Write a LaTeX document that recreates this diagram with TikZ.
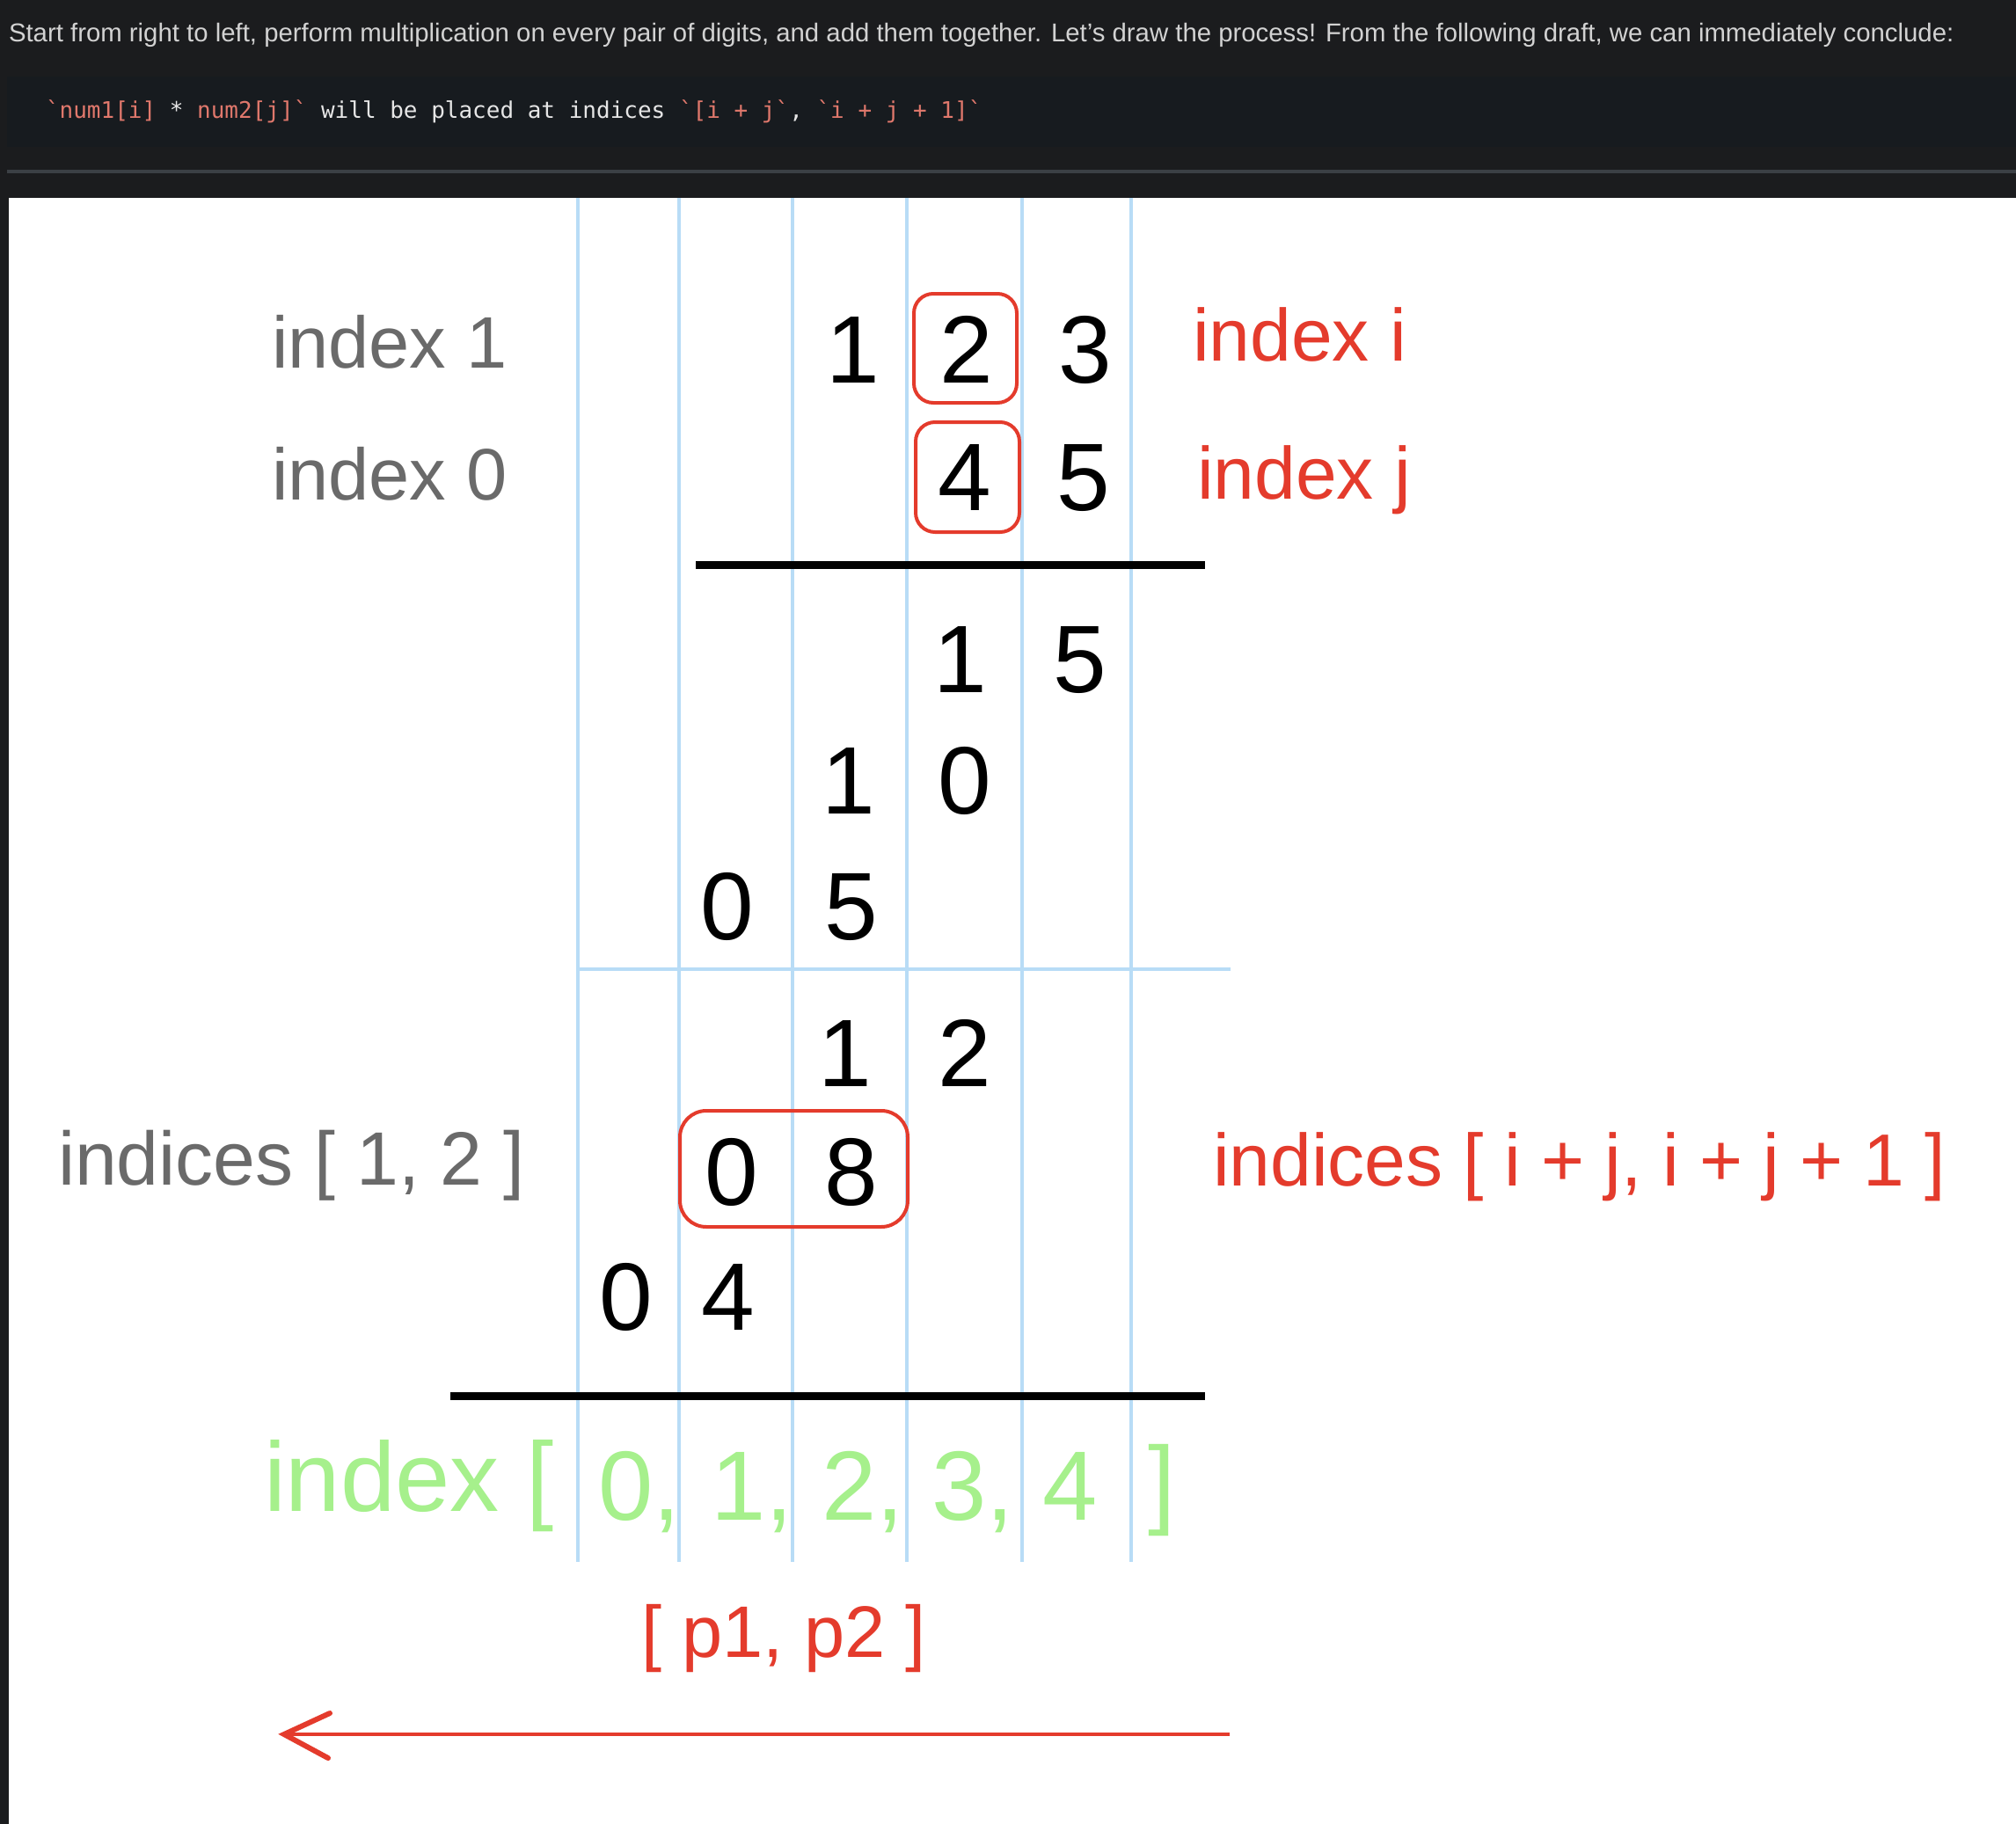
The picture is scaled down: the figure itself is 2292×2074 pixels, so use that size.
\documentclass[tikz,border=0pt]{standalone}
\usepackage{fontspec}
\setmainfont{Liberation Sans}
\setmonofont{DejaVu Sans Mono}
\usetikzlibrary{arrows.meta}
\definecolor{pagebg}{HTML}{1B1C1E}
\definecolor{codebg}{HTML}{171B1F}
\definecolor{rulegrey}{HTML}{3B4045}
\definecolor{txtgrey}{HTML}{D2D2D2}
\definecolor{codered}{HTML}{E0786C}
\definecolor{codewhite}{HTML}{E6E6E6}
\definecolor{gridblue}{HTML}{B8DCF6}
\definecolor{labgrey}{HTML}{6A6A6A}
\definecolor{mred}{HTML}{E43B2C}
\definecolor{mgreen}{HTML}{A6F08C}
\begin{document}
\begin{tikzpicture}[x=1pt,y=-1pt,
  every node/.style={inner sep=0pt,outer sep=0pt},
  digit/.style={anchor=base,font=\fontsize{109}{120}\selectfont,text=black},
  glab/.style={anchor=base west,font=\fontsize{83}{96}\selectfont,text=labgrey},
  rlab/.style={anchor=base west,font=\fontsize{84}{96}\selectfont,text=mred},
  gdig/.style={anchor=base west,font=\fontsize{112}{124}\selectfont,text=mgreen},
  gridline/.style={draw=gridblue,line width=3.5pt},
  sumline/.style={draw=black,line width=9pt},
  redbox/.style={draw=mred,line width=4pt,rounded corners=22pt}]
\useasboundingbox (0,0) rectangle (2292,2074);
\fill[pagebg] (0,0) rectangle (2292,2074);
\fill[codebg] (8,87) rectangle (2292,167);
\fill[rulegrey] (8,193) rectangle (2292,197);
\fill[white] (10,225) rectangle (2292,2074);

% header text
\node[anchor=base west,text=txtgrey] (intro) at (10,48)
  {\resizebox{2211pt}{!}{Start from right to left, perform multiplication on every pair of digits, and add them together. Let's draw the process! From the following draft, we can immediately conclude:}};
\node[anchor=base west,text=codewhite,font=\ttfamily\fontsize{26}{30}\selectfont] (code) at (52,135)
  {{\color{codered}`num1[i]}~*~{\color{codered}num2[j]`}~will be placed at indices~{\color{codered}`[i + j`},~{\color{codered}`i + j + 1]`}};

% grid
\foreach \gx/\gn in {657/a,772/b,901/c,1031/d,1162/e,1286/f}{
  \coordinate (gt\gn) at (\gx,225);
  \coordinate (gb\gn) at (\gx,1776);
  \draw[gridline] (gt\gn) -- (gb\gn);
}
\coordinate (hl) at (657,1102);
\coordinate (hr) at (1399,1102);
\draw[gridline] (hl) -- (hr);

% sum lines
\coordinate (s1l) at (791,642);
\coordinate (s1r) at (1370,642);
\draw[sumline] (s1l) -- (s1r);
\coordinate (s2l) at (512,1587);
\coordinate (s2r) at (1370,1587);
\draw[sumline] (s2l) -- (s2r);

% red boxes
\node[redbox,minimum width=117pt,minimum height=124pt] (box2) at (1097.5,396) {};
\node[redbox,minimum width=118pt,minimum height=125pt] (box4) at (1100,542.5) {};
\node[redbox,minimum width=259pt,minimum height=132pt,rounded corners=30pt] (box08) at (902.5,1329) {};

% labels
\node[glab] (lab1) at (309,418) {index 1};
\node[glab] (lab0) at (309,568) {index 0};
\node[rlab] (labi) at (1356,410) {index i};
\node[rlab] (labj) at (1361,567) {index j};
\node[anchor=base west,font=\fontsize{86}{98}\selectfont,text=labgrey] (labidx) at (66,1347) {indices [ 1, 2 ]};
\node[anchor=base west,font=\fontsize{84}{96}\selectfont,text=mred] (labgen) at (1379,1348) {indices [ i + j, i + j + 1 ]};

% digits
\node[digit] (n1a) at (970,435) {1};
\node[digit] (n1b) at (1099,435) {2};
\node[digit] (n1c) at (1234,435) {3};
\node[digit] (n2a) at (1097,580) {4};
\node[digit] (n2b) at (1232,580) {5};
\node[digit] (r1a) at (1092,787) {1};
\node[digit] (r1b) at (1228,787) {5};
\node[digit] (r2a) at (965,925) {1};
\node[digit] (r2b) at (1097,925) {0};
\node[digit] (r3a) at (827,1068) {0};
\node[digit] (r3b) at (968,1068) {5};
\node[digit] (r4a) at (961,1235) {1};
\node[digit] (r4b) at (1097,1235) {2};
\node[digit] (r5a) at (832,1370) {0};
\node[digit] (r5b) at (968,1370) {8};
\node[digit] (r6a) at (712,1512) {0};
\node[digit] (r6b) at (828,1512) {4};

% green index row
\node[gdig] (gidx) at (300,1718) {index [};
\node[gdig] (g0) at (680,1728) {0,};
\node[gdig] (g1) at (808,1728) {1,};
\node[gdig] (g2) at (934,1728) {2,};
\node[gdig] (g3) at (1059,1728) {3,};
\node[gdig] (g4) at (1185,1728) {4};
\node[gdig] (gend) at (1305,1723) {]};

% p1 p2
\node[anchor=base,font=\fontsize{83}{96}\selectfont,text=mred] (pp) at (891,1884) {[ p1, p2 ]};

% arrow
\coordinate (arrS) at (1398,1972);
\coordinate (arrE) at (323,1972);
\draw[mred,line width=4.5pt] (arrS) -- (arrE);
\draw[mred,line width=6pt,line cap=round,line join=miter] ([shift={(52,-24)}]arrE) -- (arrE) -- ([shift={(50,27)}]arrE);
\end{tikzpicture}
\end{document}
